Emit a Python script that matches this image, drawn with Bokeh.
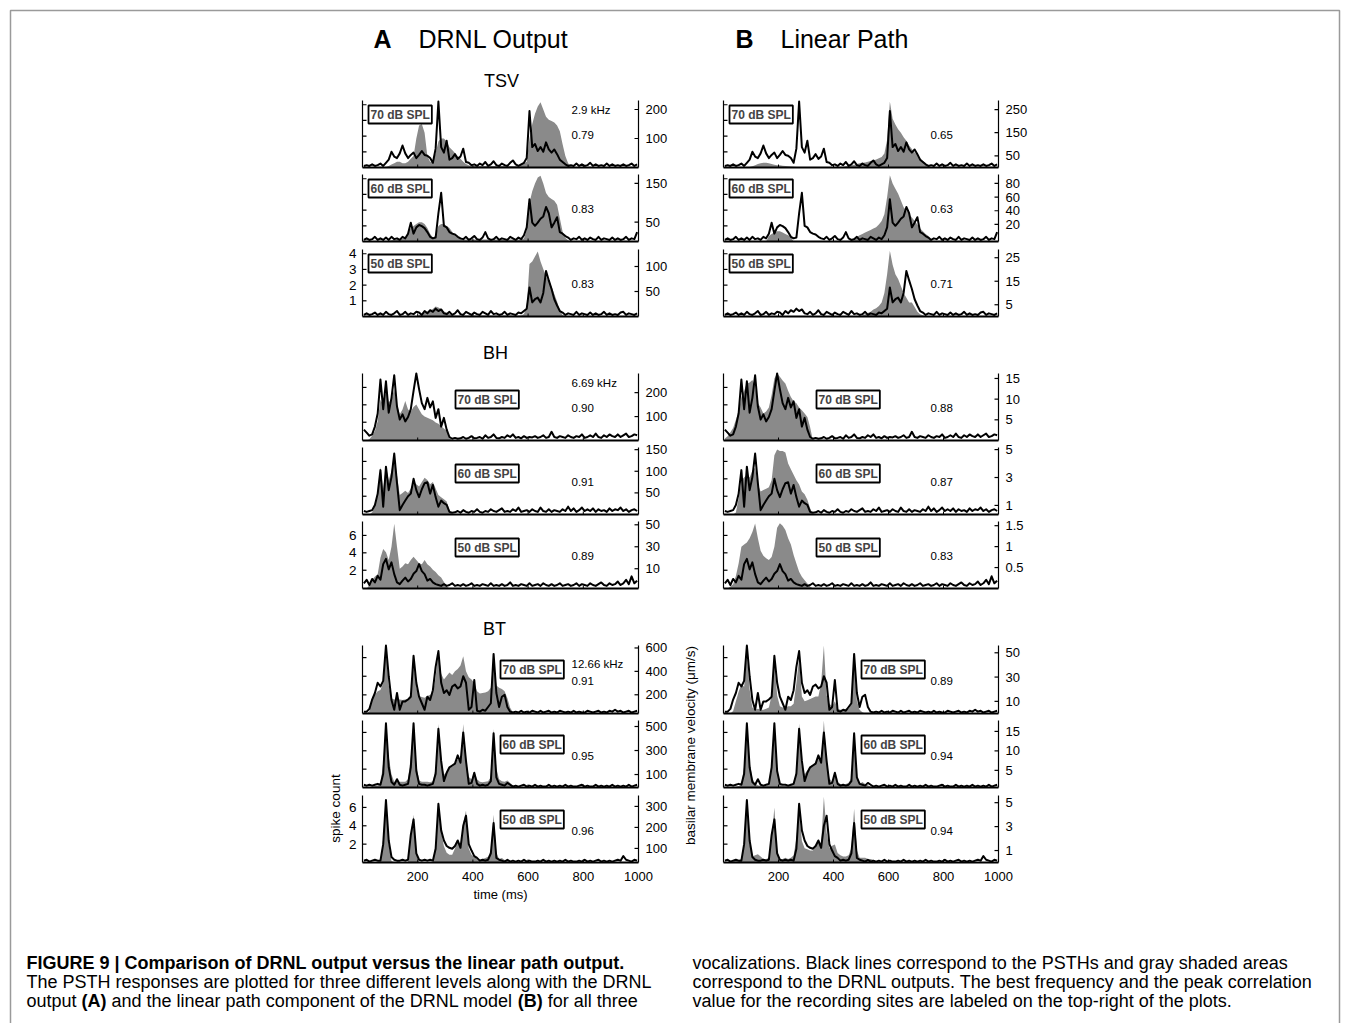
import math
import numpy as np
from bokeh.plotting import figure
from bokeh.models import Range1d, Label
from bokeh.core.properties import value
from bokeh.embed import file_html
from bokeh.resources import INLINE

# ---------------- data ----------------
time_ms = list(range(5, 1000, 10))  # PSTH bin centres (10 ms bins)

# PSTH (spike count) -- black lines, shared by columns A and B
psth_tsv_70 = [0.1, 0.15, 0.1, 0.2, 0.1, 0.15, 0.25, 0.1, 0.3, 0.5,
               1.0, 0.7, 0.6, 0.9, 1.4, 0.9, 0.6, 0.8, 0.95, 0.6,
               0.8, 1.05, 0.8, 0.75, 0.6, 0.3, 1.2, 4.2, 1.3, 0.95,
               1.7, 0.5, 0.6, 0.85, 0.55, 0.7, 1.2, 0.35, 0.3, 0.15,
               0.2, 0.1, 0.25, 0.15, 0.35, 0.1, 0.2, 0.4, 0.15, 0.1,
               0.25, 0.15, 0.1, 0.3, 0.45, 0.2, 0.1, 0.2, 0.3, 0.6,
               3.6, 1.3, 1.5, 1.05, 1.3, 1.0, 1.6, 1.15, 0.95, 1.15,
               0.85, 0.5, 0.35, 0.2, 0.1, 0.15, 0.1, 0.25, 0.1, 0.2,
               0.1, 0.15, 0.3, 0.1, 0.2, 0.1, 0.15, 0.1, 0.25, 0.1,
               0.2, 0.1, 0.15, 0.1, 0.2, 0.1, 0.15, 0.25, 0.1, 0.2]
psth_tsv_60 = [0.1, 0.2, 0.1, 0.15, 0.3, 0.1, 0.2, 0.1, 0.25, 0.1,
               0.3, 0.15, 0.2, 0.1, 0.3, 0.2, 0.5, 1.2, 0.5, 0.9,
               1.05, 0.98, 0.85, 0.6, 0.3, 0.2, 0.25, 1.8, 3.1, 1.0,
               0.9, 0.6, 0.5, 0.45, 0.3, 0.2, 0.15, 0.3, 0.1, 0.2,
               0.35, 0.15, 0.1, 0.25, 0.6, 0.2, 0.1, 0.15, 0.3, 0.1,
               0.2, 0.15, 0.1, 0.3, 0.2, 0.1, 0.25, 0.15, 0.4, 0.9,
               2.7, 1.2, 1.0, 1.2, 1.45, 1.6, 2.2, 1.8, 0.9, 1.2,
               1.55, 0.6, 0.5, 0.35, 0.25, 0.1, 0.2, 0.15, 0.3, 0.1,
               0.2, 0.1, 0.25, 0.15, 0.1, 0.3, 0.1, 0.2, 0.15, 0.1,
               0.25, 0.1, 0.2, 0.1, 0.15, 0.3, 0.1, 0.2, 0.15, 0.6]
psth_tsv_50 = [0.1, 0.2, 0.1, 0.15, 0.25, 0.1, 0.2, 0.1, 0.3, 0.15,
               0.1, 0.2, 0.35, 0.1, 0.15, 0.3, 0.1, 0.2, 0.15, 0.3,
               0.25, 0.1, 0.35, 0.2, 0.4, 0.3, 0.5, 0.35, 0.45, 0.2,
               0.15, 0.3, 0.1, 0.2, 0.4, 0.15, 0.1, 0.3, 0.2, 0.1,
               0.25, 0.15, 0.1, 0.3, 0.2, 0.1, 0.35, 0.15, 0.2, 0.1,
               0.15, 0.3, 0.1, 0.2, 0.15, 0.1, 0.25, 0.2, 0.35, 0.5,
               1.85, 0.9, 1.1, 1.2, 0.9, 1.5, 2.9, 2.3, 1.75, 1.1,
               0.7, 0.35, 0.25, 0.1, 0.2, 0.15, 0.1, 0.3, 0.1, 0.2,
               0.15, 0.1, 0.25, 0.1, 0.2, 0.1, 0.15, 0.3, 0.1, 0.2,
               0.1, 0.15, 0.1, 0.25, 0.3, 0.1, 0.2, 0.15, 0.1, 0.2]
psth_bh_70 = [1.15, 0.8, 0.45, 0.6, 1.5, 3.0, 6.9, 3.5, 6.7, 3.1,
              4.8, 7.4, 3.8, 2.3, 2.9, 2.1, 2.6, 3.5, 5.6, 7.6,
              5.8, 4.2, 3.5, 4.8, 3.7, 4.4, 2.5, 3.5, 1.5, 2.5,
              1.15, 0.3, 0.1, 0.2, 0.1, 0.15, 0.3, 0.1, 0.2, 0.4,
              0.15, 0.2, 0.3, 0.1, 0.5, 0.2, 0.3, 0.6, 0.2, 0.15,
              0.3, 0.2, 0.5, 0.3, 0.6, 0.2, 0.3, 0.15, 0.4, 0.2,
              0.3, 0.25, 0.4, 0.2, 0.3, 0.5, 0.2, 0.3, 0.9, 0.3,
              0.2, 0.4, 0.3, 0.2, 0.5, 0.3, 0.2, 0.4, 0.3, 0.6,
              0.2, 0.3, 0.5, 0.3, 0.7, 0.3, 0.2, 0.5, 0.3, 0.6,
              0.4, 0.3, 0.6, 0.3, 0.5, 0.7, 0.3, 0.4, 0.6, 0.5]
psth_bh_60 = [0.3, 0.2, 0.3, 0.4, 1.0, 2.3, 5.0, 0.8, 5.4, 2.7,
              4.2, 6.9, 3.5, 0.4, 1.0, 1.5, 2.0, 2.3, 4.0, 2.7,
              1.9, 2.8, 3.5, 3.6, 2.3, 3.3, 1.9, 0.8, 1.5, 1.2,
              1.0, 0.2, 0.1, 0.15, 0.3, 0.1, 0.4, 0.2, 0.1, 0.3,
              0.2, 0.5, 0.2, 0.1, 0.3, 0.2, 0.5, 0.3, 0.2, 0.4,
              0.6, 0.2, 0.3, 0.2, 0.5, 0.3, 0.7, 0.2, 0.3, 0.4,
              0.2, 0.5, 0.3, 0.2, 0.7, 0.3, 0.2, 0.5, 0.2, 0.4,
              0.3, 0.2, 0.5, 0.3, 0.8, 0.3, 0.6, 0.2, 0.4, 0.7,
              0.3, 0.5, 0.3, 0.6, 0.2, 0.5, 0.3, 0.4, 0.2, 0.6,
              0.3, 0.5, 0.4, 0.7, 0.3, 0.5, 0.2, 0.4, 0.5, 0.3]
psth_bh_50 = [0.5, 0.9, 0.3, 1.0, 0.6, 1.35, 0.9, 2.7, 3.3, 2.1,
              2.9, 1.55, 0.6, 0.4, 0.8, 1.15, 0.7, 1.0, 1.6, 1.9,
              2.7, 1.9, 1.55, 0.8, 1.0, 0.6, 0.4, 0.3, 0.2, 0.4,
              0.2, 0.3, 0.5, 0.2, 0.3, 0.2, 0.4, 0.2, 0.3, 0.5,
              0.2, 0.3, 0.2, 0.4, 0.3, 0.2, 0.5, 0.2, 0.3, 0.2,
              0.4, 0.2, 0.3, 0.6, 0.2, 0.3, 0.2, 0.4, 0.3, 0.2,
              0.5, 0.2, 0.3, 0.4, 0.2, 0.5, 0.3, 0.2, 0.4, 0.2,
              0.3, 0.5, 0.2, 0.3, 0.4, 0.2, 0.3, 0.5, 0.2, 0.4,
              0.3, 0.2, 0.5, 0.3, 0.2, 0.4, 0.6, 0.3, 0.2, 0.5,
              0.3, 0.4, 0.7, 0.3, 0.5, 0.9, 0.4, 1.3, 0.5, 0.8]
psth_bt_70 = [0.2, 0.2, 0.5, 1.5, 2.2, 3.3, 2.9, 3.5, 7.3, 4.0,
              1.45, 0.4, 2.2, 0.4, 1.3, 1.3, 1.5, 1.8, 6.2, 3.3,
              1.8, 1.1, 0.4, 1.8, 1.45, 2.5, 5.0, 6.7, 3.3, 2.2,
              2.5, 2.0, 2.9, 3.1, 2.7, 2.9, 4.0, 3.3, 0.4, 0.7,
              3.6, 0.3, 0.2, 0.4, 0.3, 0.7, 1.1, 6.4, 2.2, 0.7,
              1.8, 2.0, 0.7, 0.2, 0.1, 0.2, 0.1, 0.3, 0.1, 0.2,
              0.1, 0.3, 0.2, 0.1, 0.3, 0.1, 0.2, 0.3, 0.1, 0.2,
              0.1, 0.3, 0.2, 0.1, 0.2, 0.1, 0.3, 0.1, 0.2, 0.1,
              0.1, 0.3, 0.2, 0.1, 0.2, 0.3, 0.1, 0.2, 0.1, 0.3,
              0.2, 0.4, 0.2, 0.3, 0.1, 0.2, 0.3, 0.1, 0.2, 0.3]
psth_bt_60 = [0.3, 0.2, 0.3, 0.2, 0.3, 0.4, 0.3, 1.5, 7.0, 2.2,
              0.6, 0.3, 0.9, 0.3, 0.2, 0.3, 0.4, 2.2, 7.0, 1.8,
              0.4, 0.3, 0.3, 0.2, 0.3, 0.4, 1.5, 6.4, 2.9, 0.7,
              1.6, 2.2, 2.4, 2.6, 3.5, 2.7, 6.0, 2.9, 0.4, 0.5,
              1.6, 0.4, 0.2, 0.3, 0.2, 0.3, 0.7, 5.9, 1.1, 0.4,
              0.3, 0.2, 0.5, 0.3, 0.1, 0.2, 0.1, 0.2, 0.3, 0.1,
              0.2, 0.1, 0.3, 0.1, 0.2, 0.1, 0.1, 0.3, 0.1, 0.2,
              0.1, 0.2, 0.1, 0.3, 0.1, 0.2, 0.1, 0.1, 0.2, 0.3,
              0.1, 0.2, 0.1, 0.1, 0.3, 0.1, 0.2, 0.1, 0.2, 0.1,
              0.3, 0.1, 0.2, 0.1, 0.2, 0.1, 0.3, 0.1, 0.2, 0.3]
psth_bt_50 = [0.2, 0.3, 0.1, 0.2, 0.3, 0.2, 0.2, 2.0, 6.8, 2.4,
              0.6, 0.3, 0.2, 0.2, 0.3, 0.2, 0.3, 3.0, 4.7, 1.0,
              0.3, 0.2, 0.3, 0.2, 0.3, 0.2, 1.5, 6.4, 3.5, 2.4,
              1.8, 1.6, 1.5, 1.8, 2.4, 1.6, 4.0, 5.1, 2.0, 1.3,
              0.7, 0.5, 0.2, 0.3, 0.2, 0.3, 1.0, 4.3, 0.5, 0.3,
              0.2, 0.1, 0.3, 0.1, 0.2, 0.1, 0.2, 0.1, 0.3, 0.1,
              0.2, 0.1, 0.1, 0.2, 0.1, 0.3, 0.1, 0.2, 0.1, 0.2,
              0.1, 0.2, 0.1, 0.3, 0.1, 0.2, 0.1, 0.1, 0.2, 0.1,
              0.3, 0.1, 0.2, 0.1, 0.2, 0.3, 0.1, 0.2, 0.1, 0.2,
              0.1, 0.2, 0.3, 0.2, 0.7, 0.3, 0.2, 0.1, 0.3, 0.2]

# DRNL output (A) -- gray areas, basilar membrane velocity (um/s)
drnl_tsv_70 = [0, 0, 0, 0, 0, 0, 0, 0, 2, 5,
               10, 15, 20, 20, 15, 15, 20, 30, 40, 100,
               145, 150, 120, 40, 20, 20, 50, 90, 100, 100,
               90, 70, 60, 50, 40, 30, 20, 12, 8, 5,
               5, 5, 5, 5, 5, 5, 5, 5, 5, 5,
               5, 5, 5, 5, 5, 5, 8, 10, 15, 20,
               100, 150, 185, 210, 225, 200, 175, 165, 160, 155,
               145, 125, 80, 40, 15, 5, 2, 0, 0, 0] + [0] * 20
drnl_tsv_60 = [0, 0, 0, 0, 0, 0, 0, 0, 0, 2,
               3, 5, 5, 5, 8, 10, 20, 35, 40, 45,
               50, 50, 45, 35, 20, 10, 15, 40, 45, 45,
               40, 35, 25, 15, 10, 8, 5, 5, 5, 5,
               5, 5, 5, 5, 5, 5, 5, 5, 5, 5,
               5, 5, 5, 5, 5, 5, 5, 5, 8, 30,
               100, 130, 150, 165, 170, 150, 125, 115, 110, 105,
               95, 60, 25, 10, 3, 0, 0, 0, 0, 0] + [0] * 20
drnl_tsv_50 = [0] * 20 + [3, 5, 8, 10, 12, 15, 20, 18, 15, 10,
                          8, 5, 3, 2, 2, 2, 2, 2, 2, 2,
                          2, 2, 2, 2, 2, 2, 2, 2, 2, 2,
                          2, 2, 2, 2, 2, 2, 2, 2, 5, 20,
                          105, 110, 120, 130, 110, 95, 80, 70, 60, 45,
                          30, 12, 3, 0, 0, 0, 0, 0, 0, 0] + [0] * 20
drnl_bh_70 = [0, 0, 5, 20, 40, 80, 170, 150, 210, 160,
              170, 215, 150, 110, 130, 165, 130, 120, 140, 150,
              130, 110, 100, 95, 90, 85, 75, 70, 60, 50,
              40, 10] + [0] * 68
drnl_bh_60 = [0, 0, 0, 5, 20, 50, 110, 60, 110, 80,
              100, 140, 90, 45, 50, 55, 50, 60, 75, 70,
              65, 75, 85, 80, 70, 75, 60, 45, 40, 35,
              30, 10] + [0] * 68
drnl_bh_50 = [-8, -8, -5, 0, 3, 5, 20, 28, 25, 18,
              30, 51, 30, 10, 12, 15, 14, 18, 21, 18,
              15, 14, 18, 14, 12, 9, 7, 4, 2, -2,
              -6] + [-8] * 69
drnl_bt_70 = [0, 0, 60, 180, 200, 230, 240, 300, 600, 280,
              170, 160, 165, 160, 155, 160, 165, 200, 490, 260,
              190, 180, 175, 190, 200, 210, 350, 575, 380, 330,
              360, 390, 370, 400, 420, 450, 530, 400, 350, 330,
              300, 230, 210, 215, 220, 230, 260, 520, 280, 260,
              250, 230, 170, 90, 50, 0, 0, 0, 0, 0] + [0] * 40
drnl_bt_60 = [-8, -8, -8, 0, 5, 10, 20, 200, 480, 250,
              100, 40, 40, 40, 40, 40, 60, 250, 500, 180,
              50, 40, 40, 40, 35, 45, 150, 520, 200, 100,
              120, 150, 170, 190, 230, 200, 520, 220, 80, 60,
              120, 60, 40, 35, 40, 45, 80, 480, 150, 60,
              45, 40, 50, 30, 10, 0, -8, -8, -8, -8] + [-8] * 40
drnl_bt_50 = [0, 0, 0, 0, 0, 0, 20, 150, 330, 120,
              40, 0, 10, 20, 20, 10, 0, 170, 260, 80,
              20, 10, 10, 10, 20, 30, 120, 320, 180, 110,
              80, 70, 70, 100, 140, 100, 220, 280, 100, 70,
              60, 50, 45, 50, 55, 60, 90, 260, 80, 50,
              55, 45, 40, 30, 0, 0, 0, 0, 0, 0] + [0] * 40

# Linear path (B) -- gray areas
lin_tsv_70 = [0, 0, 0, 0, 0, 0, 0, 0, 0, 2,
              5, 10, 15, 18, 20, 20, 18, 15, 12, 10,
              10, 8, 6, 5, 4, 3, 2, 2, 2, 2,
              2, 2, 2, 2, 2, 2, 2, 2, 2, 2,
              2, 2, 2, 2, 5, 8, 10, 12, 15, 18,
              20, 22, 25, 28, 30, 35, 40, 45, 60, 120,
              285, 210, 185, 165, 150, 130, 115, 95, 80, 65,
              55, 40, 28, 18, 8, 2, 0, 0, 0, 0] + [0] * 20
lin_tsv_60 = [-5] * 10 + [-5, -5, -5, -5, -5, -5, 3, 6, 8, 10,
                          10, 8, 6, 4, 2, -5, -5, -5, -5, -5,
                          -5, -5, -5, -5, -5, -5, -5, -5, -5, -5,
                          -5, -5, -5, -5, -5, -5, -2, 0, 2, 4,
                          6, 8, 10, 12, 14, 16, 20, 25, 35, 60,
                          92, 80, 72, 65, 55, 45, 40, 35, 30, 25,
                          20, 14, 10, 6, 3, -5, -5, -5, -5, -5] + [-5] * 20
lin_tsv_50 = [0] * 50 + [0.5, 1, 1.5, 2, 3, 3.5, 4.5, 6, 10, 18,
                         28, 22, 18, 16, 13, 10, 8, 6, 6, 4,
                         2, 1, 0.5, 0, 0, 0, 0, 0, 0, 0] + [0] * 20
lin_bh_70 = [0.5, 1, 2, 3, 5, 7, 10.5, 12, 13.8, 14,
             14.6, 13, 9, 8, 6.5, 7, 8, 11, 15, 16.2,
             15.4, 14.5, 13.8, 12, 10.5, 9.5, 9, 8, 7.3, 6.5,
             5.7, 3.2] + [0] * 68
lin_bh_60 = [0, 0, 0, 0, 0.5, 1.5, 2.8, 3.0, 3.2, 3.0,
             3.5, 3.7, 2.5, 2.0, 2.1, 2.2, 2.3, 2.8, 4.6, 5.0,
             4.9, 4.9, 4.8, 4.0, 3.6, 3.2, 2.8, 2.5, 2.0, 1.8,
             1.4, 0.8] + [0] * 68
lin_bh_50 = [0, 0, 0.05, 0.1, 0.3, 0.6, 1.0, 1.05, 1.1, 1.2,
             1.35, 1.55, 1.2, 0.9, 0.78, 0.72, 0.68, 0.75, 1.0, 1.45,
             1.56, 1.5, 1.4, 1.2, 1.05, 0.8, 0.6, 0.4, 0.28, 0.2,
             0.12, 0.05] + [0] * 68
lin_bt_70 = [0, 0, 0, 2, 10, 18, 24, 22, 50, 20,
             5, 3, 4, 3, 3, 4, 5, 15, 45, 15,
             6, 5, 5, 6, 6, 8, 25, 46, 14, 10,
             11, 12, 13, 14, 14, 25, 56, 15, 8, 6,
             10, 4, 3, 3, 4, 4, 8, 46, 10, 3,
             1, 0, 0, 0, 0, 0, 0, 0, 0, 0] + [0] * 40
lin_bt_60 = [0, 0, 0, 0.5, 0.8, 1, 1.2, 6, 15, 7,
             3, 1.5, 1.2, 1, 1, 1, 1.5, 6, 14, 5,
             1.5, 1, 1, 1, 1.2, 1.5, 5, 17, 6, 4,
             5, 6, 6.5, 7, 8, 7, 17.8, 7, 3, 2,
             4, 2, 1.5, 1.2, 1.5, 1.8, 3, 14, 3, 1.5,
             2, 1.5, 1.2, 0.8, 0, 0, 0, 0, 0, 0] + [0] * 40
lin_bt_50 = [0, 0, 0, 0.1, 0.2, 0.2, 0.3, 1.5, 5.2, 1.5,
             0.5, 0.6, 0.7, 0.5, 0.3, 0.3, 0.4, 2.0, 4.6, 1.0,
             0.3, 0.3, 0.4, 0.3, 0.4, 0.6, 2.0, 4.5, 1.8, 1.2,
             1.1, 1.0, 1.0, 1.3, 1.8, 1.6, 5.5, 2.5, 1.2, 1.4,
             1.5, 0.8, 0.6, 0.5, 0.5, 0.6, 1.2, 4.5, 1.0, 0.4,
             0.4, 0.4, 0.3, 0.3, 0.2, 0.1, 0, 0, 0, 0] + [0] * 40

# axes
spike_range = {"TSV": (0, 4.27), "BH": (-0.1, 7.6), "BT": (0, 7.3)}
spike_ticks = {"TSV": [1, 2, 3, 4], "BH": [2, 4, 6], "BT": [2, 4, 6]}
spike_tick_labels = {"TSV": ["1", "2", "3", "4"], "BH": ["2", "4", "6"], "BT": ["2", "4", "6"]}
vel_range_A = {"TSV": [(0, 231), (0, 173), (0, 134)],
               "BH": [(0, 280), (0, 155), (-8, 53)],
               "BT": [(40, 621), (-8, 550), (33, 352)]}
vel_ticks_A = {"TSV": [[100, 200], [50, 150], [50, 100]],
               "BH": [[100, 200], [50, 100, 150], [10, 30, 50]],
               "BT": [[200, 400, 600], [100, 300, 500], [100, 200, 300]]}
vel_range_B = {"TSV": [(0, 289), (-5, 93), (0, 28.5)],
               "BH": [(0, 16.2), (0.35, 5.15), (0, 1.6)],
               "BT": [(0, 56), (0.6, 17.8), (0, 5.6)]}
vel_ticks_B = {"TSV": [[50, 150, 250], [20, 40, 60, 80], [5, 15, 25]],
               "BH": [[5, 10, 15], [1, 3, 5], [0.5, 1, 1.5]],
               "BT": [[10, 30, 50], [5, 10, 15], [1, 3, 5]]}
time_ticks = [200, 400, 600, 800, 1000]
time_tick_labels = ["200", "400", "600", "800", "1000"]

levels = ["70 dB SPL", "60 dB SPL", "50 dB SPL"]
best_freq = {"TSV": "2.9 kHz", "BH": "6.69 kHz", "BT": "12.66 kHz"}
corr_A = {"TSV": ["0.79", "0.83", "0.83"], "BH": ["0.90", "0.91", "0.89"], "BT": ["0.91", "0.95", "0.96"]}
corr_B = {"TSV": ["0.65", "0.63", "0.71"], "BH": ["0.88", "0.87", "0.83"], "BT": ["0.89", "0.94", "0.94"]}

psth = {"TSV": [psth_tsv_70, psth_tsv_60, psth_tsv_50],
        "BH": [psth_bh_70, psth_bh_60, psth_bh_50],
        "BT": [psth_bt_70, psth_bt_60, psth_bt_50]}
drnl = {"TSV": [drnl_tsv_70, drnl_tsv_60, drnl_tsv_50],
        "BH": [drnl_bh_70, drnl_bh_60, drnl_bh_50],
        "BT": [drnl_bt_70, drnl_bt_60, drnl_bt_50]}
lin = {"TSV": [lin_tsv_70, lin_tsv_60, lin_tsv_50],
       "BH": [lin_bh_70, lin_bh_60, lin_bh_50],
       "BT": [lin_bt_70, lin_bt_60, lin_bt_50]}

# ---------------- layout / style ----------------
FONT = "Liberation Sans"
GRAY = "#8a8a8a"
W, H = 1350, 1023
XA = (362, 638)
XB = (723, 998)
ROWS = {"TSV": [(100, 167), (174, 241), (249, 316)],
        "BH": [(373, 440), (447, 514), (521, 588)],
        "BT": [(645, 713), (720, 787), (795, 862)]}
LEVEL_OFF = {"TSV": (6, 5), "BH": (93, 17), "BT": (138, 15)}
TXT_OFF = {"TSV": (9, 34), "BH": (9, 34), "BT": (18, 35)}

p = figure(width=W, height=H, x_range=Range1d(0, W), y_range=Range1d(H, 0),
           output_backend="svg", toolbar_location=None, min_border=0,
           x_axis_location=None, y_axis_location=None)
p.xgrid.visible = False
p.ygrid.visible = False
p.outline_line_color = None
p.background_fill_color = "white"
p.border_fill_color = "white"

# figure border (open at the bottom)
p.line(x=[10, 10, 1339, 1339], y=[H + 5, 10, 10, H + 5], line_color="#9a9a9a", line_width=1.5)


def ptext(x, y, s, size, align="left", baseline="middle", style="normal", angle=0.0, color="black"):
    p.text(x=[x], y=[y], text=[s], text_font=value(FONT), text_font_size=size,
           text_align=align, text_baseline=baseline, text_font_style=style,
           angle=angle, text_color=color)


def panel(xspan, yspan, spikes, srange, sticks, slabels, gray, vrange, vticks,
          show_left_labels, show_time_labels):
    x0, x1 = xspan
    top, bot = yspan
    lo, hi = vrange
    sg = p.subplot(x_source=Range1d(0, 1000), y_source=Range1d(lo, hi),
                   x_target=Range1d(x0, x1), y_target=Range1d(bot, top))
    sk = p.subplot(x_source=Range1d(0, 1000), y_source=Range1d(*srange),
                   x_target=Range1d(x0, x1), y_target=Range1d(bot, top))
    pxx = 1000.0 / (x1 - x0)
    pyv = (hi - lo) / float(bot - top)
    g = np.clip(np.asarray(gray, dtype=float), lo, hi)
    sg.varea(x=time_ms, y1=lo, y2=g, fill_color=GRAY, fill_alpha=1.0)
    sk.line(x=time_ms, y=spikes, line_color="black", line_width=2.0, line_join="round")
    # spines
    sg.segment(x0=[0, 1000], y0=[lo, lo], x1=[0, 1000], y1=[hi, hi],
               line_color="black", line_width=1.2)
    sg.segment(x0=[0], y0=[lo], x1=[1000], y1=[lo], line_color="black", line_width=2.2)
    # ticks
    n = len(vticks)
    sg.segment(x0=[1000 - 4 * pxx] * n, y0=vticks, x1=[1000] * n, y1=vticks,
               line_color="black", line_width=1.2)
    m = len(sticks)
    sk.segment(x0=[0] * m, y0=sticks, x1=[4 * pxx] * m, y1=sticks,
               line_color="black", line_width=1.2)
    k = len(time_ticks) - 1
    sg.segment(x0=time_ticks[:-1], y0=[lo] * k, x1=time_ticks[:-1], y1=[lo + 3 * pyv] * k,
               line_color="black", line_width=1.0)
    # tick labels
    sg.text(x=[1000] * n, y=vticks, text=[("%g" % v) for v in vticks], x_offset=7,
            text_align="left", text_baseline="middle", text_font=value(FONT),
            text_font_size="13px", text_color="black")
    if show_left_labels:
        sk.text(x=[0] * m, y=sticks, text=slabels, x_offset=-6, text_align="right",
                text_baseline="middle", text_font=value(FONT), text_font_size="13.5px",
                text_color="black")
    if show_time_labels:
        sg.text(x=time_ticks, y=[lo] * len(time_ticks), text=time_tick_labels, y_offset=9,
                text_align="center", text_baseline="top", text_font=value(FONT),
                text_font_size="13px", text_color="black")


for grp in ["TSV", "BH", "BT"]:
    for li in range(3):
        top, bot = ROWS[grp][li]
        for col, xspan in (("A", XA), ("B", XB)):
            gray = drnl[grp][li] if col == "A" else lin[grp][li]
            vrange = vel_range_A[grp][li] if col == "A" else vel_range_B[grp][li]
            vticks = vel_ticks_A[grp][li] if col == "A" else vel_ticks_B[grp][li]
            panel(xspan, (top, bot), psth[grp][li], spike_range[grp], spike_ticks[grp],
                  spike_tick_labels[grp], gray, vrange, vticks,
                  show_left_labels=(col == "A" and li == 2),
                  show_time_labels=(grp == "BT" and li == 2))
            dx, dy = LEVEL_OFF[grp]
            p.add_layout(Label(x=xspan[0] + dx, y=top + dy, text=levels[li],
                               text_font=FONT, text_font_size="12px", text_font_style="bold",
                               text_align="left", text_baseline="top",
                               border_line_color="black", border_line_width=1.8,
                               background_fill_color="white", padding=2))
            fy, cy = TXT_OFF[grp]
            tx = xspan[0] + (209 if col == "A" else 207)
            if col == "A" and li == 0:
                ptext(tx, top + fy, best_freq[grp], "11.5px")
            corr = corr_A[grp][li] if col == "A" else corr_B[grp][li]
            ptext(tx, top + cy, corr, "11.5px")

# titles
ptext(373, 38, "A", "25px", style="bold")
ptext(418, 38, "DRNL Output", "25px")
ptext(735, 38, "B", "25px", style="bold")
ptext(780, 38, "Linear Path", "25px")
ptext(501, 80, "TSV", "18px", align="center")
ptext(495, 352, "BH", "18px", align="center")
ptext(494, 628, "BT", "18px", align="center")

# axis titles
ptext(500, 894, "time (ms)", "13px", align="center")
ptext(335, 808, "spike count", "13.5px", align="center", angle=math.pi / 2)
ptext(690, 745, "basilar membrane velocity (\u03bcm/s)", "13.5px", align="center", angle=math.pi / 2)

# caption
HELV = {c: w for c, w in zip("abcdefghijklmnopqrstuvwxyz",
                             [556, 556, 500, 556, 556, 278, 556, 556, 222, 222, 500, 222, 833,
                              556, 556, 556, 556, 333, 500, 278, 556, 500, 722, 500, 500, 500])}
HELV.update({c: w for c, w in zip("ABCDEFGHIJKLMNOPQRSTUVWXYZ",
                                  [667, 667, 722, 722, 667, 611, 778, 722, 278, 500, 667, 556, 833,
                                   722, 778, 667, 778, 722, 667, 611, 722, 667, 944, 667, 667, 611])})
HELV.update({" ": 278, "(": 333, ")": 333, ".": 278, ",": 278, "-": 333})
HELV_BOLD = {"(": 333, ")": 333, "A": 722, "B": 722}
CAP = "18px"


def twidth(s, table, size):
    return sum(table.get(c, 556) for c in s) * size / 1000.0


ptext(26, 962, "FIGURE 9 | Comparison of DRNL output versus the linear path output.", CAP, style="bold")
ptext(26, 981, "The PSTH responses are plotted for three different levels along with the DRNL", CAP)
segs = [("output ", False), ("(A)", True), (" and the linear path component of the DRNL model ", False),
        ("(B)", True), (" for all three", False)]
cx = 26.0
for s, bold in segs:
    lead = len(s) - len(s.lstrip(" "))
    x_start = cx + twidth(" " * lead, HELV, 18)
    ptext(x_start, 1000, s.strip(" "), CAP, style="bold" if bold else "normal")
    cx += twidth(s, HELV_BOLD if bold else HELV, 18)
ptext(692, 962, "vocalizations. Black lines correspond to the PSTHs and gray shaded areas", CAP)
ptext(692, 981, "correspond to the DRNL outputs. The best frequency and the peak correlation", CAP)
ptext(692, 1000, "value for the recording sites are labeled on the top-right of the plots.", CAP)

open("out.html", "w").write(file_html(p, INLINE))
